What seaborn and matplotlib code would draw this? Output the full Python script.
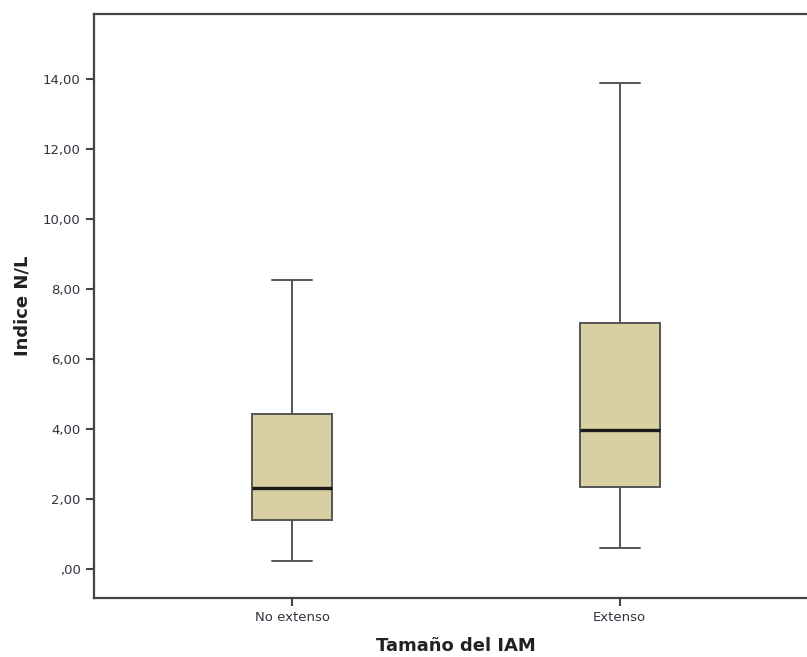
import numpy as np
import pandas as pd
import matplotlib
matplotlib.use('Agg')
import matplotlib.pyplot as plt
import seaborn as sns

sns.set_theme(style='ticks')
plt.rcParams['font.family'] = ['DejaVu Sans']

# five-number summaries (min, Q1, median, Q3, max)
categories = ['No extenso', 'Extenso']
no_extenso = [0.23, 1.40, 2.31, 4.43, 8.26]
extenso = [0.60, 2.34, 3.97, 7.03, 13.89]

yticks = [0, 2, 4, 6, 8, 10, 12, 14]
ytick_labels = [',00', '2,00', '4,00', '6,00', '8,00', '10,00', '12,00', '14,00']

df = pd.DataFrame({
    'grupo': [categories[0]] * len(no_extenso) + [categories[1]] * len(extenso),
    'nl': no_extenso + extenso,
})

W, H = 807, 657
fig = plt.figure(figsize=(W / 100, H / 100), dpi=100)
# right edge runs past the image, as in the reference
ax = fig.add_axes([94 / W, 1 - 598 / H, (818 - 94) / W, (598 - 14) / H])

edge = '#555555'
sns.boxplot(data=df, x='grupo', y='nl', order=categories, ax=ax,
            color='#D8D0A3', saturation=1, width=0.245, whis=1.5,
            linewidth=1.4, linecolor=edge,
            boxprops=dict(edgecolor=edge),
            medianprops=dict(color='#1a1a1a', linewidth=2.4),
            capprops=dict(color=edge), whiskerprops=dict(color=edge))

ax.set_xlim(-0.605, 1.605)
ax.set_ylim(-0.83, 15.86)
ax.set_yticks(yticks)
ax.set_yticklabels(ytick_labels)
ax.tick_params(axis='both', labelsize=9.5, labelcolor='#333340', color='#444444',
               length=6, width=1.5)

for side in ['left', 'bottom', 'top', 'right']:
    ax.spines[side].set_color('#444444')
    ax.spines[side].set_linewidth(1.6)

ax.set_ylabel('Indice N/L', fontsize=13, fontweight='bold', color='#222222', labelpad=8)
ax.set_xlabel('Tamaño del IAM', fontsize=13, fontweight='bold', color='#222222', labelpad=9)

fig.savefig('out.png', dpi=100, facecolor='white')
